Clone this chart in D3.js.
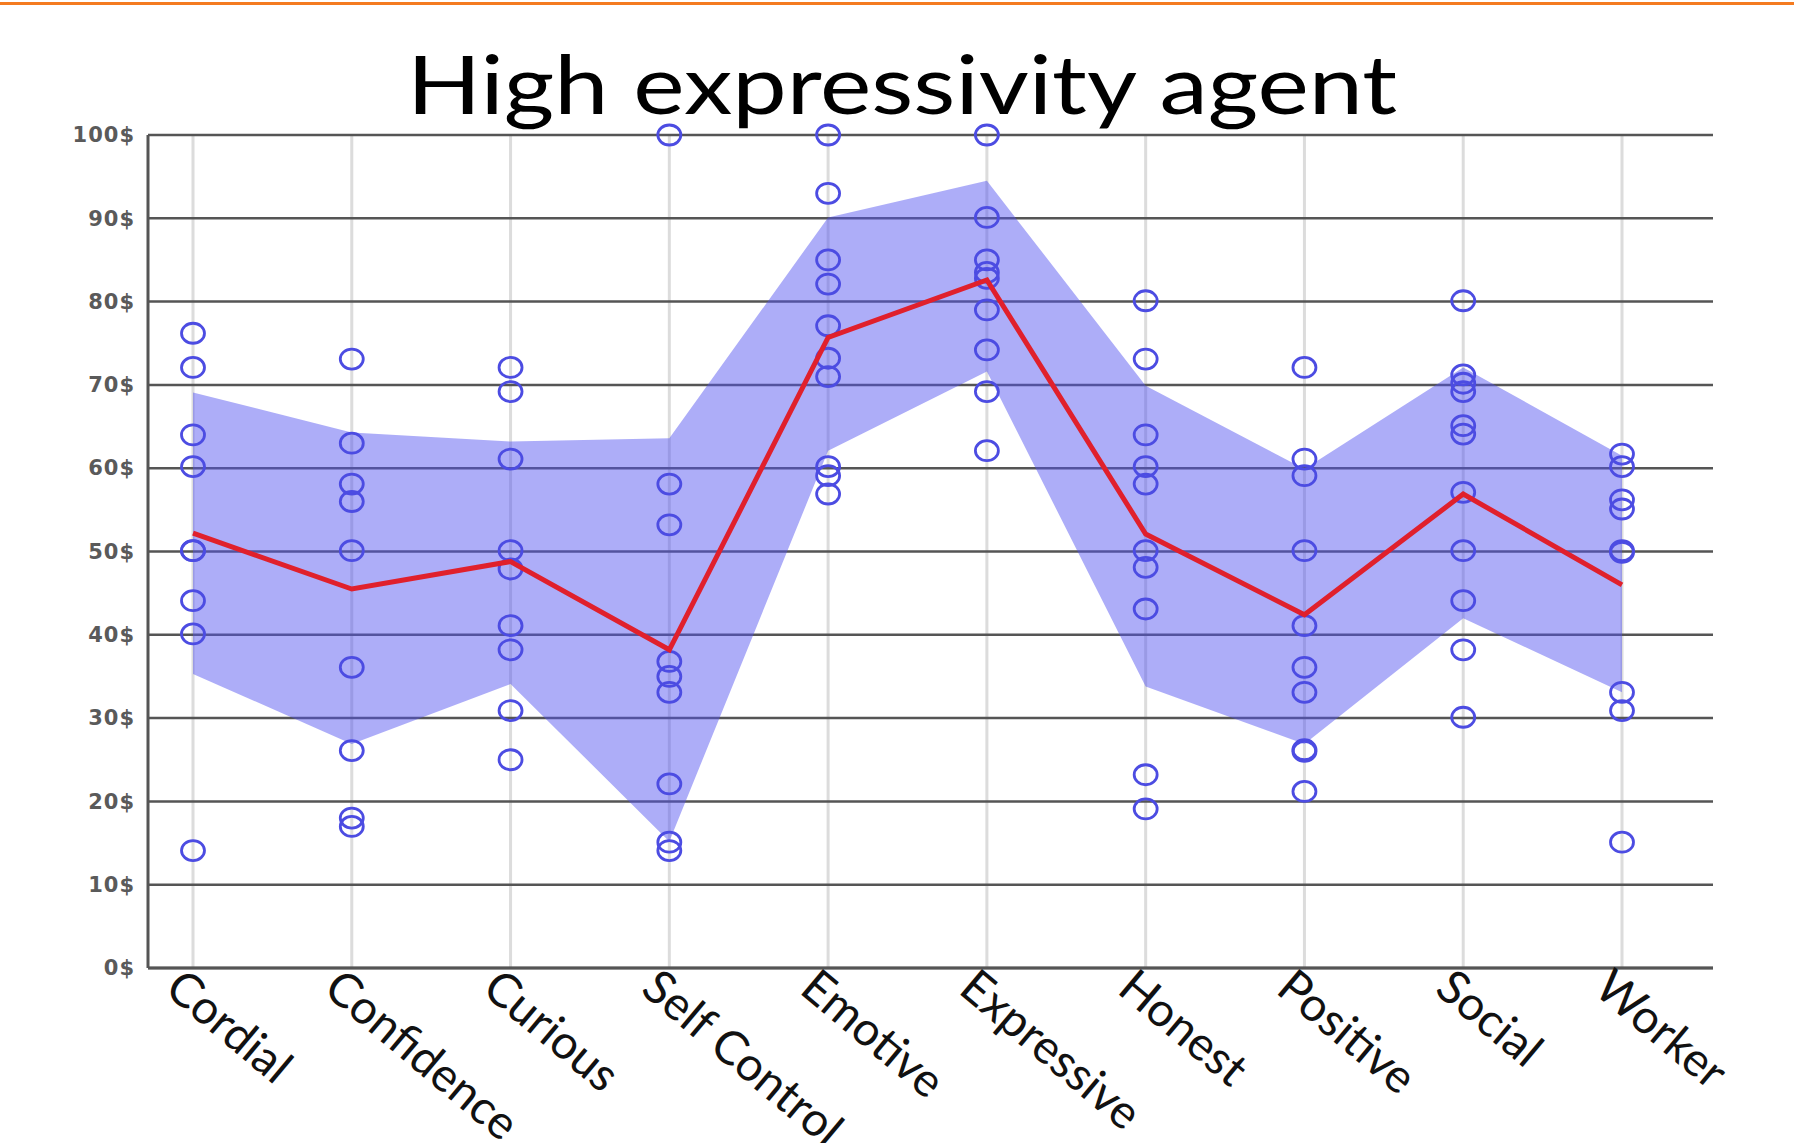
<!DOCTYPE html>
<html>
<head>
<meta charset="utf-8">
<script src="https://cdn.jsdelivr.net/npm/d3@7"></script>
<style>
  body { margin: 0; background: #fff; }
  svg { display: block; }
</style>
</head>
<body>
<svg id="chart" width="1794" height="1143"></svg>
<script>
const categories = ["Cordial", "Confidence", "Curious", "Self Control", "Emotive",
  "Expressive", "Honest", "Positive", "Social", "Worker"];

const meanValues = [52.2, 45.5, 48.8, 38.2, 75.7, 82.6, 52.1, 42.4, 56.9, 46.0];
const upperValues = [69.1, 64.3, 63.2, 63.6, 90.1, 94.5, 69.9, 59.9, 72.1, 61.5];
const lowerValues = [35.3, 26.9, 34.1, 15.2, 62.1, 71.6, 33.8, 26.9, 42.0, 33.1];

// individual answers per category
const responses = [
  [76.2, 72.1, 64.0, 60.2, 50.1, 50.1, 44.1, 40.1, 14.1],
  [73.1, 63.0, 58.1, 56.0, 50.1, 36.1, 26.1, 18.0, 17.0],
  [72.1, 69.2, 61.1, 50.1, 47.9, 41.1, 38.2, 30.9, 25.0],
  [100, 58.1, 53.2, 36.8, 35.0, 33.1, 22.1, 15.1, 14.1],
  [100, 93.0, 85.0, 82.1, 77.1, 73.2, 71.0, 60.2, 59.1, 56.9],
  [100, 90.1, 85.0, 83.5, 82.8, 79.0, 74.2, 69.2, 62.1],
  [80.1, 73.1, 64.0, 60.2, 58.1, 50.1, 48.1, 43.1, 23.2, 19.1],
  [72.1, 61.1, 59.1, 50.1, 41.1, 36.1, 33.1, 26.2, 26.0, 21.2],
  [80.1, 71.2, 70.2, 69.2, 65.1, 64.1, 57.1, 50.1, 44.1, 38.2, 30.1],
  [61.7, 60.2, 56.2, 55.1, 50.1, 49.9, 33.1, 30.9, 15.1]
];

const yTicks = [0, 10, 20, 30, 40, 50, 60, 70, 80, 90, 100];

(() => {
  const width = 1794;
  const plot = { left: 148, right: 1713, top: 135, bottom: 968 };

  const svg = d3.select("#chart");

  // orange rule at the very top
  svg.append("rect")
    .attr("x", 0).attr("y", 2)
    .attr("width", width).attr("height", 3)
    .attr("fill", "#f47b20");

  const x = d3.scalePoint()
    .domain(categories)
    .range([193, 1622]);

  const y = d3.scaleLinear()
    .domain([0, 100])
    .range([plot.bottom, plot.top]);

  // vertical grid
  svg.append("g")
    .selectAll("line")
    .data(categories)
    .join("line")
    .attr("x1", d => x(d)).attr("x2", d => x(d))
    .attr("y1", plot.top).attr("y2", plot.bottom)
    .attr("stroke", "#dcdcdc")
    .attr("stroke-width", 3);

  // horizontal grid
  svg.append("g")
    .selectAll("line")
    .data(yTicks)
    .join("line")
    .attr("x1", plot.left).attr("x2", plot.right)
    .attr("y1", d => y(d)).attr("y2", d => y(d))
    .attr("stroke", "#555")
    .attr("stroke-width", 2.5);

  // y labels
  const yAxis = svg.append("g")
    .attr("transform", `translate(${plot.left}, 0)`)
    .call(d3.axisLeft(y).tickValues(yTicks).tickFormat(d => d + "$").tickSize(0).tickPadding(13));
  yAxis.select(".domain").remove();
  yAxis.selectAll("text")
    .attr("fill", "#5a5a5a")
    .style("font-family", "'DejaVu Sans', sans-serif")
    .style("font-size", "21px")
    .style("font-weight", "bold")
    .style("letter-spacing", "1px");

  // spread band
  const band = d3.area()
    .x((d, i) => x(categories[i]))
    .y0(d => y(d[0]))
    .y1(d => y(d[1]));

  svg.append("path")
    .datum(lowerValues.map((v, i) => [v, upperValues[i]]))
    .attr("d", band)
    .attr("fill", "rgb(80, 80, 240)")
    .attr("fill-opacity", 0.47);

  // axes lines
  svg.append("line")
    .attr("x1", plot.left).attr("x2", plot.left)
    .attr("y1", plot.top).attr("y2", plot.bottom)
    .attr("stroke", "#555").attr("stroke-width", 3);
  svg.append("line")
    .attr("x1", plot.left).attr("x2", plot.right)
    .attr("y1", plot.bottom).attr("y2", plot.bottom)
    .attr("stroke", "#555").attr("stroke-width", 3);

  // responses
  const points = responses.flatMap((vals, i) => vals.map(v => ({ cat: categories[i], v })));
  svg.append("g")
    .selectAll("ellipse")
    .data(points)
    .join("ellipse")
    .attr("cx", d => x(d.cat))
    .attr("cy", d => y(d.v))
    .attr("rx", 11.5)
    .attr("ry", 10)
    .attr("fill", "none")
    .attr("stroke", "#4c4ce2")
    .attr("stroke-width", 2.8);

  // mean line
  svg.append("path")
    .datum(meanValues)
    .attr("d", d3.line().x((d, i) => x(categories[i])).y(d => y(d)))
    .attr("fill", "none")
    .attr("stroke", "#e0202c")
    .attr("stroke-width", 5);

  // category labels
  svg.append("g")
    .selectAll("text")
    .data(categories)
    .join("text")
    .attr("transform", d => `translate(${x(d) - 30}, ${plot.bottom + 24}) rotate(40)`)
    .attr("text-anchor", "start")
    .attr("fill", "#111")
    .style("font-family", "Lato, sans-serif")
    .style("font-size", "47px")
    .text(d => d);

  // title
  svg.append("text")
    .attr("x", 902)
    .attr("y", 114)
    .attr("text-anchor", "middle")
    .attr("textLength", 990)
    .attr("lengthAdjust", "spacingAndGlyphs")
    .attr("fill", "#000")
    .style("font-family", "Lato, sans-serif")
    .style("font-size", "82px")
    .text("High expressivity agent");
})();
</script>
</body>
</html>
